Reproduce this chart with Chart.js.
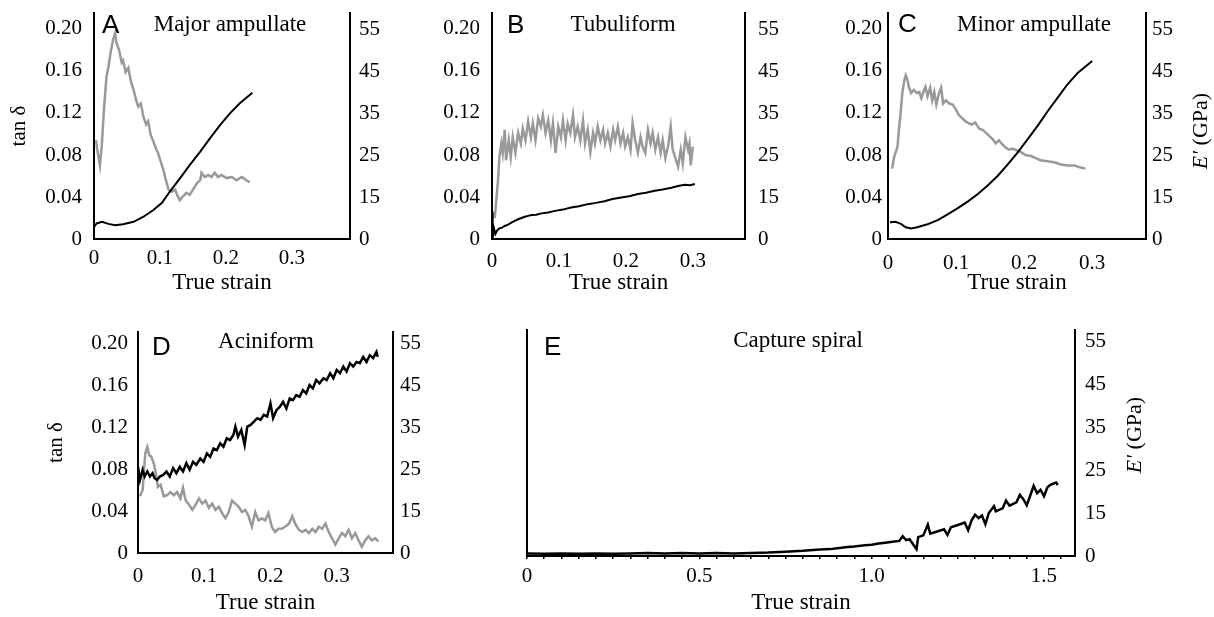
<!DOCTYPE html>
<html>
<head>
<meta charset="utf-8">
<title>Silk dynamic mechanics</title>
<script src="https://cdn.jsdelivr.net/npm/chart.js@4.4.0/dist/chart.umd.min.js"></script>
<style>
    body { margin: 0; background: #fff; width: 1214px; height: 617px; position: relative; overflow: hidden; }
    canvas { position: absolute; }
</style>
</head>
<body>
<canvas id="panelA" width="404" height="300" style="left:0;top:0;width:404px;height:300px"></canvas>
<canvas id="panelB" width="404" height="300" style="left:404px;top:0;width:404px;height:300px"></canvas>
<canvas id="panelC" width="406" height="300" style="left:808px;top:0;width:406px;height:300px"></canvas>
<canvas id="panelD" width="450" height="317" style="left:0;top:300px;width:450px;height:317px"></canvas>
<canvas id="panelE" width="764" height="317" style="left:450px;top:300px;width:764px;height:317px"></canvas>
<script>
// tick values and their printed labels
const tanTickVals = [0, 0.04, 0.08, 0.12, 0.16, 0.20];
const tanTickLabels = ['0', '0.04', '0.08', '0.12', '0.16', '0.20'];
const modTickVals = [5, 15, 25, 35, 45, 55];
const modTickLabels = ['0', '15', '25', '35', '45', '55'];
const strainTickVals = [0, 0.1, 0.2, 0.3];
const strainTickLabels = ['0', '0.1', '0.2', '0.3'];
const spiralTickVals = [0, 0.5, 1.0, 1.5];
const spiralTickLabels = ['0', '0.5', '1.0', '1.5'];

// [true strain, tan delta]  and  [true strain, E' (GPa)]
const majorTan = [[0.003,0.094],[0.005,0.085],[0.009,0.070],[0.012,0.091],[0.015,0.123],[0.019,0.155],[0.022,0.164],[0.025,0.177],[0.029,0.190],[0.032,0.196],[0.034,0.187],[0.038,0.180],[0.042,0.168],[0.044,0.170],[0.048,0.159],[0.052,0.163],[0.056,0.150],[0.060,0.142],[0.064,0.132],[0.067,0.126],[0.071,0.129],[0.075,0.116],[0.079,0.109],[0.082,0.112],[0.086,0.099],[0.090,0.093],[0.094,0.086],[0.097,0.082],[0.101,0.074],[0.105,0.066],[0.109,0.056],[0.113,0.047],[0.118,0.045],[0.123,0.047],[0.126,0.042],[0.130,0.037],[0.134,0.040],[0.140,0.044],[0.145,0.042],[0.150,0.047],[0.156,0.053],[0.161,0.056],[0.163,0.063],[0.168,0.059],[0.173,0.061],[0.178,0.059],[0.183,0.063],[0.188,0.059],[0.193,0.061],[0.201,0.058],[0.209,0.059],[0.216,0.056],[0.224,0.059],[0.231,0.056],[0.236,0.054]];
const majorMod = [[0,7.9],[0.004,8.7],[0.012,9.1],[0.022,8.6],[0.032,8.3],[0.044,8.5],[0.060,9.1],[0.075,10.3],[0.090,11.9],[0.103,13.6],[0.115,16.3],[0.130,19.4],[0.145,22.6],[0.161,25.8],[0.176,29.0],[0.191,32.1],[0.206,34.9],[0.221,37.3],[0.240,39.8]];

const tubuTan = [[0.004,0.020],[0.006,0.034],[0.009,0.056],[0.011,0.078],[0.014,0.091],[0.016,0.082],[0.019,0.104],[0.021,0.075],[0.025,0.094],[0.028,0.078],[0.031,0.097],[0.035,0.082],[0.039,0.101],[0.043,0.091],[0.046,0.105],[0.050,0.094],[0.054,0.112],[0.058,0.097],[0.061,0.110],[0.065,0.094],[0.069,0.115],[0.073,0.107],[0.076,0.118],[0.080,0.101],[0.084,0.113],[0.088,0.094],[0.091,0.110],[0.095,0.082],[0.099,0.107],[0.103,0.097],[0.106,0.113],[0.110,0.094],[0.113,0.110],[0.117,0.101],[0.121,0.118],[0.124,0.097],[0.128,0.107],[0.132,0.094],[0.136,0.113],[0.139,0.091],[0.143,0.104],[0.147,0.083],[0.151,0.101],[0.154,0.091],[0.158,0.107],[0.162,0.094],[0.166,0.104],[0.169,0.091],[0.173,0.101],[0.177,0.088],[0.181,0.104],[0.184,0.094],[0.188,0.107],[0.192,0.091],[0.196,0.101],[0.199,0.088],[0.203,0.097],[0.207,0.085],[0.210,0.110],[0.214,0.094],[0.218,0.082],[0.222,0.097],[0.225,0.088],[0.229,0.082],[0.233,0.104],[0.237,0.091],[0.240,0.101],[0.244,0.085],[0.248,0.097],[0.252,0.082],[0.255,0.094],[0.259,0.077],[0.263,0.088],[0.267,0.107],[0.270,0.085],[0.274,0.077],[0.278,0.069],[0.282,0.085],[0.285,0.072],[0.289,0.097],[0.293,0.085],[0.295,0.091],[0.297,0.070],[0.300,0.088]];
const tubuMod = [[0,11.5],[0.001,5.3],[0.003,7.5],[0.005,6.2],[0.008,7.1],[0.011,7.5],[0.015,7.7],[0.019,8.1],[0.024,8.4],[0.029,8.9],[0.034,9.3],[0.039,9.7],[0.044,10.0],[0.049,10.3],[0.054,10.5],[0.059,10.7],[0.066,10.8],[0.074,11.1],[0.084,11.3],[0.094,11.7],[0.106,12.0],[0.118,12.5],[0.130,12.8],[0.143,13.3],[0.155,13.6],[0.168,14.0],[0.180,14.5],[0.193,14.9],[0.205,15.2],[0.218,15.7],[0.230,16.0],[0.243,16.5],[0.255,16.8],[0.268,17.2],[0.278,17.6],[0.288,17.9],[0.296,17.8],[0.303,18.1]];

const minorTan = [[0.006,0.067],[0.009,0.078],[0.011,0.082],[0.014,0.088],[0.016,0.104],[0.019,0.123],[0.021,0.139],[0.024,0.151],[0.026,0.156],[0.028,0.153],[0.031,0.144],[0.034,0.139],[0.038,0.142],[0.042,0.139],[0.046,0.140],[0.049,0.134],[0.053,0.142],[0.055,0.145],[0.058,0.136],[0.062,0.144],[0.065,0.132],[0.068,0.140],[0.071,0.128],[0.075,0.139],[0.078,0.144],[0.081,0.129],[0.085,0.132],[0.090,0.129],[0.095,0.128],[0.100,0.123],[0.104,0.118],[0.109,0.115],[0.114,0.112],[0.119,0.110],[0.123,0.109],[0.128,0.111],[0.134,0.105],[0.139,0.104],[0.144,0.101],[0.149,0.098],[0.154,0.095],[0.158,0.091],[0.163,0.094],[0.168,0.090],[0.173,0.087],[0.178,0.085],[0.182,0.086],[0.187,0.085],[0.195,0.083],[0.202,0.080],[0.210,0.079],[0.217,0.077],[0.224,0.075],[0.234,0.074],[0.244,0.073],[0.254,0.071],[0.264,0.070],[0.274,0.070],[0.283,0.068],[0.290,0.067]];
const minorMod = [[0.003,9.0],[0.011,9.1],[0.019,8.6],[0.026,7.8],[0.034,7.5],[0.043,7.8],[0.058,8.5],[0.073,9.5],[0.087,10.8],[0.102,12.3],[0.117,13.9],[0.132,15.7],[0.146,17.7],[0.161,20.0],[0.175,22.6],[0.190,25.5],[0.205,28.7],[0.220,32.0],[0.234,35.3],[0.249,38.6],[0.264,41.9],[0.279,44.6],[0.300,47.4]];

const acinTan = [[0.003,0.054],[0.007,0.060],[0.009,0.079],[0.011,0.095],[0.014,0.101],[0.017,0.093],[0.020,0.092],[0.024,0.085],[0.027,0.076],[0.030,0.063],[0.034,0.065],[0.039,0.054],[0.044,0.055],[0.049,0.058],[0.054,0.055],[0.059,0.058],[0.064,0.052],[0.068,0.062],[0.072,0.050],[0.077,0.046],[0.082,0.041],[0.087,0.046],[0.092,0.052],[0.097,0.047],[0.102,0.050],[0.107,0.043],[0.112,0.047],[0.117,0.041],[0.122,0.044],[0.127,0.038],[0.132,0.033],[0.137,0.039],[0.142,0.050],[0.147,0.047],[0.152,0.044],[0.157,0.039],[0.162,0.041],[0.167,0.035],[0.172,0.025],[0.177,0.039],[0.182,0.031],[0.187,0.033],[0.192,0.031],[0.197,0.038],[0.202,0.025],[0.207,0.020],[0.212,0.023],[0.217,0.023],[0.222,0.025],[0.228,0.028],[0.233,0.035],[0.238,0.027],[0.243,0.022],[0.248,0.020],[0.253,0.022],[0.258,0.019],[0.263,0.023],[0.268,0.020],[0.273,0.025],[0.278,0.023],[0.283,0.028],[0.288,0.020],[0.293,0.014],[0.298,0.008],[0.303,0.014],[0.308,0.019],[0.313,0.016],[0.318,0.022],[0.323,0.014],[0.328,0.019],[0.333,0.012],[0.338,0.006],[0.343,0.012],[0.348,0.016],[0.353,0.012],[0.358,0.014],[0.363,0.011]];
const acinMod = [[0,25.5],[0.003,22.4],[0.007,24.8],[0.010,23.2],[0.014,24.4],[0.018,23.2],[0.022,24.0],[0.025,22.8],[0.029,22.4],[0.033,23.2],[0.038,23.6],[0.043,24.4],[0.048,23.2],[0.053,25.2],[0.058,24.0],[0.063,25.5],[0.068,24.4],[0.073,26.4],[0.078,24.8],[0.083,26.7],[0.088,26.0],[0.094,27.5],[0.099,26.7],[0.104,28.7],[0.109,27.9],[0.114,29.9],[0.119,29.5],[0.124,31.1],[0.129,30.3],[0.134,32.3],[0.139,31.9],[0.144,33.1],[0.147,35.1],[0.151,32.7],[0.156,34.3],[0.161,30.7],[0.165,35.1],[0.170,35.5],[0.175,36.3],[0.180,37.1],[0.185,36.7],[0.190,37.9],[0.195,37.5],[0.200,40.6],[0.204,37.1],[0.209,39.0],[0.214,39.8],[0.219,41.0],[0.224,39.4],[0.229,41.8],[0.234,41.4],[0.239,42.6],[0.244,42.2],[0.249,43.8],[0.254,43.0],[0.259,45.0],[0.264,44.2],[0.269,46.2],[0.274,45.4],[0.280,46.6],[0.285,46.2],[0.290,47.8],[0.295,46.6],[0.300,48.6],[0.305,47.8],[0.310,49.4],[0.315,48.2],[0.320,50.2],[0.325,49.4],[0.330,50.5],[0.335,50.2],[0.340,51.7],[0.345,50.5],[0.350,52.1],[0.355,51.4],[0.360,52.9],[0.362,51.7]];

const spiralMod = [[0,5.6],[0.05,5.5],[0.10,5.6],[0.15,5.5],[0.20,5.6],[0.25,5.5],[0.30,5.6],[0.35,5.7],[0.40,5.6],[0.45,5.7],[0.50,5.6],[0.55,5.7],[0.60,5.6],[0.65,5.7],[0.70,5.8],[0.75,6.0],[0.80,6.2],[0.85,6.5],[0.88,6.6],[0.90,6.8],[0.93,7.1],[0.95,7.2],[0.98,7.5],[1.00,7.6],[1.02,7.9],[1.04,8.1],[1.06,8.3],[1.08,8.5],[1.09,9.6],[1.10,8.7],[1.11,8.9],[1.13,6.6],[1.135,9.4],[1.15,9.8],[1.163,12.3],[1.17,10.2],[1.19,10.7],[1.21,11.2],[1.22,9.9],[1.23,11.7],[1.25,12.2],[1.27,12.8],[1.28,11.0],[1.29,13.3],[1.30,14.6],[1.31,13.8],[1.32,14.4],[1.33,12.4],[1.34,15.0],[1.355,16.6],[1.36,15.4],[1.38,16.1],[1.39,17.9],[1.40,16.7],[1.42,17.5],[1.43,19.2],[1.44,18.2],[1.45,16.8],[1.46,19.0],[1.47,21.3],[1.48,19.6],[1.49,20.4],[1.50,18.9],[1.51,21.0],[1.52,21.6],[1.535,22.1],[1.54,21.5]];

const SERIF = '"Liberation Serif", "Times New Roman", serif';
const SANS = '"Liberation Sans", Arial, sans-serif';
const GREY = '#999999';

function toPoints(pairs) {
    return pairs.map(p => ({ x: p[0], y: p[1] }));
}

function labelFor(vals, labels) {
    return function(v) {
        const k = vals.findIndex(t => Math.abs(t - v) < 1e-6);
        return k < 0 ? '' : labels[k];
    };
}

// fixed axis box sizes, and no extra padding for overhanging labels
function fixWidth(w) {
    return function(s) {
        s.width = w;
        s.paddingTop = 0;
        s.paddingBottom = 0;
    };
}

function fixHeight(h) {
    return function(s) {
        s.height = h;
        s.paddingLeft = 0;
        s.paddingRight = 0;
    };
}

// panel letter, panel name and the E' (GPa) title (reads bottom to top)
const panelText = {
    id: 'panelText',
    afterDraw(chart, args, o) {
        const ctx = chart.ctx;
        ctx.save();
        ctx.fillStyle = '#000';
        ctx.textBaseline = 'alphabetic';
        ctx.textAlign = 'left';
        ctx.font = '26px ' + SANS;
        ctx.fillText(o.letter, o.letterX, o.letterY);
        ctx.textAlign = 'center';
        ctx.font = '23px ' + SERIF;
        ctx.fillText(o.name, o.nameX, o.nameY);
        if (o.modTitle) {
            ctx.translate(o.modTitleX, o.modTitleY);
            ctx.rotate(-Math.PI / 2);
            ctx.textAlign = 'left';
            ctx.textBaseline = 'middle';
            ctx.font = 'italic 22px ' + SERIF;
            const w1 = ctx.measureText('E′').width;
            ctx.font = '22px ' + SERIF;
            const w2 = ctx.measureText(' (GPa)').width;
            const x0 = -(w1 + w2) / 2;
            ctx.font = 'italic 22px ' + SERIF;
            ctx.fillText('E′', x0, 0);
            ctx.font = '22px ' + SERIF;
            ctx.fillText(' (GPa)', x0 + w1, 0);
        }
        ctx.restore();
    }
};

function renderPanel(id, p) {
    const ctx = document.getElementById(id).getContext('2d');
    const tickFont = { family: SERIF, size: 21 };

    const datasets = [{
        data: toPoints(p.mod),
        yAxisID: 'yE',
        borderColor: '#000',
        borderWidth: p.modWidth || 2,
        pointRadius: 0,
        tension: 0
    }];
    if (p.tan) {
        datasets.push({
            data: toPoints(p.tan),
            yAxisID: 'yT',
            borderColor: GREY,
            borderWidth: 2.5,
            pointRadius: 0,
            tension: 0
        });
    }

    const scales = {
        x: {
            type: 'linear',
            position: 'bottom',
            min: 0,
            max: p.xMax,
            afterBuildTicks: s => { s.ticks = p.xTicks.map(v => ({ value: v })); },
            afterFit: fixHeight(p.bottomH),
            grid: { display: !!p.minorTicks, drawOnChartArea: false, drawTicks: !!p.minorTicks,
                    tickLength: 3, color: '#000', lineWidth: 1.5 },
            border: { color: '#000', width: 2 },
            ticks: { color: '#000', font: tickFont, padding: p.xPad, maxRotation: 0, autoSkip: false,
                     callback: labelFor(p.xLabelVals, p.xLabels) },
            title: { display: true, text: 'True strain', color: '#000', font: { family: SERIF, size: 23 },
                     padding: { top: 0, bottom: p.xTitlePad } }
        },
        yE: {
            type: 'linear',
            position: 'right',
            min: 5,
            max: p.modMax,
            afterBuildTicks: s => { s.ticks = modTickVals.map(v => ({ value: v })); },
            afterFit: fixWidth(p.rightW),
            grid: { display: false, drawTicks: false },
            border: { color: '#000', width: 2 },
            ticks: { color: '#000', font: tickFont, padding: p.rightPad, autoSkip: false,
                     callback: labelFor(modTickVals, modTickLabels) }
        }
    };

    if (p.tan) {
        scales.yT = {
            type: 'linear',
            position: 'left',
            min: 0,
            max: p.tanMax,
            afterBuildTicks: s => { s.ticks = tanTickVals.map(v => ({ value: v })); },
            afterFit: fixWidth(p.leftW),
            grid: { display: false, drawTicks: false },
            border: { color: '#000', width: 2 },
            ticks: { color: '#000', font: tickFont, padding: p.leftPad, autoSkip: false,
                     callback: labelFor(tanTickVals, tanTickLabels) },
            title: { display: !!p.tanTitle, text: 'tan δ', color: '#000', font: { family: SERIF, size: 21 },
                     padding: { top: p.tanTitlePad || 0, bottom: 0 } }
        };
    } else {
        // capture spiral: bare left axis line only
        scales.yL = {
            type: 'linear',
            position: 'left',
            min: 0,
            max: 1,
            afterFit: fixWidth(p.leftW),
            grid: { display: false, drawTicks: false },
            border: { color: '#000', width: 2 },
            ticks: { display: false }
        };
    }

    return new Chart(ctx, {
        type: 'line',
        data: { datasets: datasets },
        options: {
            responsive: false,
            maintainAspectRatio: false,
            animation: false,
            events: [],
            layout: { padding: { top: p.topPad, left: 0, right: 0, bottom: 0 } },
            plugins: {
                legend: { display: false },
                tooltip: { enabled: false },
                panelText: p.text
            },
            scales: scales
        },
        plugins: [panelText]
    });
}

const spiralMinor = [];
for (let k = 0; k <= 31; k++) spiralMinor.push(Math.round(k * 5) / 100);

renderPanel('panelA', {
    tan: majorTan, mod: majorMod,
    xMax: 0.388, tanMax: 0.2152, modMax: 58.81,
    xTicks: strainTickVals, xLabelVals: strainTickVals, xLabels: strainTickLabels,
    leftW: 94, rightW: 54, topPad: 13, bottomH: 61,
    leftPad: 12, rightPad: 9, xPad: 7, xTitlePad: 3,
    tanTitle: true, tanTitlePad: 7,
    text: { letter: 'A', letterX: 102, letterY: 33, name: 'Major ampullate', nameX: 230, nameY: 31 }
});

renderPanel('panelB', {
    tan: tubuTan, mod: tubuMod,
    xMax: 0.378, tanMax: 0.2152, modMax: 58.81,
    xTicks: strainTickVals, xLabelVals: strainTickVals, xLabels: strainTickLabels,
    leftW: 88, rightW: 63, topPad: 13, bottomH: 61,
    leftPad: 12, rightPad: 13, xPad: 10, xTitlePad: 3,
    text: { letter: 'B', letterX: 103, letterY: 33, name: 'Tubuliform', nameX: 219, nameY: 31 }
});

renderPanel('panelC', {
    tan: minorTan, mod: minorMod,
    xMax: 0.379, tanMax: 0.2152, modMax: 58.81,
    xTicks: strainTickVals, xLabelVals: strainTickVals, xLabels: strainTickLabels,
    leftW: 80, rightW: 68, topPad: 13, bottomH: 61,
    leftPad: 6, rightPad: 6, xPad: 12, xTitlePad: 3,
    text: { letter: 'C', letterX: 90, letterY: 32, name: 'Minor ampullate', nameX: 226, nameY: 31,
            modTitle: true, modTitleX: 393, modTitleY: 131 }
});

renderPanel('panelD', {
    tan: acinTan, mod: acinMod, modWidth: 2.5,
    xMax: 0.385, tanMax: 0.2105, modMax: 57.62,
    xTicks: strainTickVals, xLabelVals: strainTickVals, xLabels: strainTickLabels,
    leftW: 138, rightW: 57, topPad: 32, bottomH: 64,
    leftPad: 10, rightPad: 7, xPad: 11, xTitlePad: 0,
    tanTitle: true, tanTitlePad: 44,
    text: { letter: 'D', letterX: 152, letterY: 55, name: 'Aciniform', nameX: 266, nameY: 48 }
});

renderPanel('panelE', {
    tan: null, mod: spiralMod, modWidth: 2.5,
    xMax: 1.59, modMax: 57.56,
    xTicks: spiralMinor, xLabelVals: spiralTickVals, xLabels: spiralTickLabels, minorTicks: true,
    leftW: 77, rightW: 139, topPad: 30, bottomH: 61,
    rightPad: 10, xPad: 5, xTitlePad: 0,
    text: { letter: 'E', letterX: 94, letterY: 55, name: 'Capture spiral', nameX: 348, nameY: 47,
            modTitle: true, modTitleX: 685, modTitleY: 135 }
});
</script>
</body>
</html>
